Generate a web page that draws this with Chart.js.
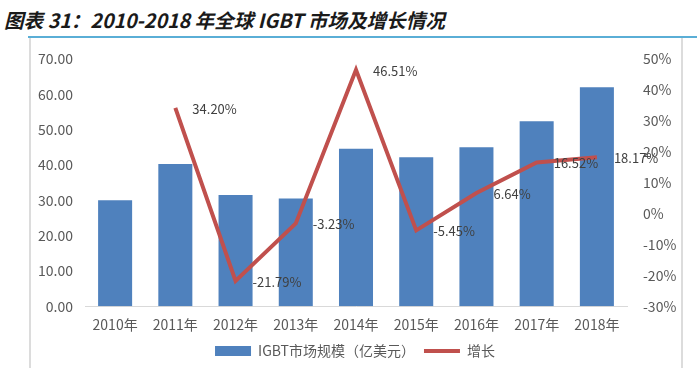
<!DOCTYPE html>
<html>
<head>
<meta charset="utf-8">
<script src="https://cdn.jsdelivr.net/npm/chart.js@4"></script>
<style>
    body { margin: 0; width: 700px; height: 368px; background: #fff; position: relative; overflow: hidden; }
    .title {
        position: absolute; left: 4px; top: 5px;
        font-family: "Noto Sans CJK SC", sans-serif; font-weight: bold; font-style: italic;
        font-size: 19.6px; color: #1a1a1a; white-space: nowrap;
    }
    .rule { position: absolute; left: 28px; top: 36px; width: 669px; height: 2px; background: #5aaed6; }
    .frame {
        position: absolute; left: 29px; top: 38px; width: 650px; height: 330px;
        border-left: 2px solid #dcdcdc; border-right: 2px solid #dcdcdc;
    }
    .wrap { position: absolute; left: 30px; top: 38px; width: 650px; height: 330px; }
</style>
</head>
<body>
<div class="title">图表 31：2010-2018 年全球 IGBT 市场及增长情况</div>
<div class="rule"></div>
<div class="frame"></div>
<div class="wrap"><canvas id="marketChart"></canvas></div>
<script>
const years = ['2010年', '2011年', '2012年', '2013年', '2014年', '2015年', '2016年', '2017年', '2018年'];
const marketSize = [30.0, 40.3, 31.5, 30.5, 44.6, 42.2, 45.0, 52.4, 62.0];
const growthRate = [null, 34.20, -21.79, -3.23, 46.51, -5.45, 6.64, 16.52, 18.17];
const leftTicks = [0, 10, 20, 30, 40, 50, 60, 70];
const rightTicks = [-30, -20, -10, 0, 10, 20, 30, 40, 50];

const labelFont = '"Noto Sans CJK SC", sans-serif';
const axisColor = '#595959';

// growth labels to the right of each point, like Excel
const lineLabels = {
    id: 'lineLabels',
    afterDatasetsDraw(chart) {
        const meta = chart.getDatasetMeta(1);
        const ctx = chart.ctx;
        ctx.save();
        ctx.font = '13px ' + labelFont;
        ctx.fillStyle = '#404040';
        ctx.textAlign = 'left';
        ctx.textBaseline = 'middle';
        meta.data.forEach((pt, i) => {
            const v = growthRate[i];
            if (v === null) return;
            ctx.fillText(v.toFixed(2) + '%', pt.x + 17, pt.y + 1);
        });
        ctx.restore();
    }
};

function initChart() {
    const ctx = document.getElementById('marketChart');
    new Chart(ctx, {
        type: 'bar',
        data: {
            labels: years,
            datasets: [{
                type: 'bar',
                label: 'IGBT市场规模（亿美元）',
                data: marketSize,
                backgroundColor: '#4f81bd',
                borderWidth: 0,
                categoryPercentage: 1,
                barPercentage: 0.565,
                yAxisID: 'y',
                pointStyle: 'rect',
                order: 2
            }, {
                type: 'line',
                label: '增长',
                data: growthRate,
                borderColor: '#c0504d',
                backgroundColor: '#c0504d',
                borderWidth: 4,
                pointRadius: 0,
                tension: 0,
                yAxisID: 'y1',
                pointStyle: 'line',
                order: 1
            }]
        },
        options: {
            responsive: true,
            maintainAspectRatio: false,
            animation: false,
            layout: { padding: { top: 21, bottom: 0 } },
            plugins: {
                tooltip: { enabled: false },
                legend: {
                    position: 'bottom',
                    labels: {
                        usePointStyle: true,
                        pointStyleWidth: 36,
                        boxWidth: 36,
                        boxHeight: 10,
                        padding: 9,
                        color: axisColor,
                        font: { family: labelFont, size: 14 },
                        sort: (a, b) => a.datasetIndex - b.datasetIndex
                    }
                }
            },
            scales: {
                x: {
                    grid: { display: false },
                    border: { display: true, color: '#d9d9d9', width: 1 },
                    ticks: { color: axisColor, padding: 2, font: { family: labelFont, size: 14 } }
                },
                y: {
                    position: 'left',
                    min: 0,
                    max: 70,
                    afterBuildTicks: s => { s.ticks = leftTicks.map(v => ({ value: v })); },
                    afterFit: s => { s.width = 55; },
                    grid: { display: false },
                    border: { display: false },
                    ticks: {
                        color: axisColor, padding: 4,
                        font: { family: labelFont, size: 14 },
                        callback: v => Number(v).toFixed(2)
                    }
                },
                y1: {
                    position: 'right',
                    min: -30,
                    max: 50,
                    afterBuildTicks: s => { s.ticks = rightTicks.map(v => ({ value: v })); },
                    afterFit: s => { s.width = 53; },
                    grid: { display: false },
                    border: { display: false },
                    ticks: {
                        color: axisColor, padding: 8,
                        font: { family: labelFont, size: 14 },
                        callback: v => v + '%'
                    }
                }
            }
        },
        plugins: [lineLabels]
    });
}

document.addEventListener('DOMContentLoaded', () => {
    initChart();
});
</script>
</body>
</html>
